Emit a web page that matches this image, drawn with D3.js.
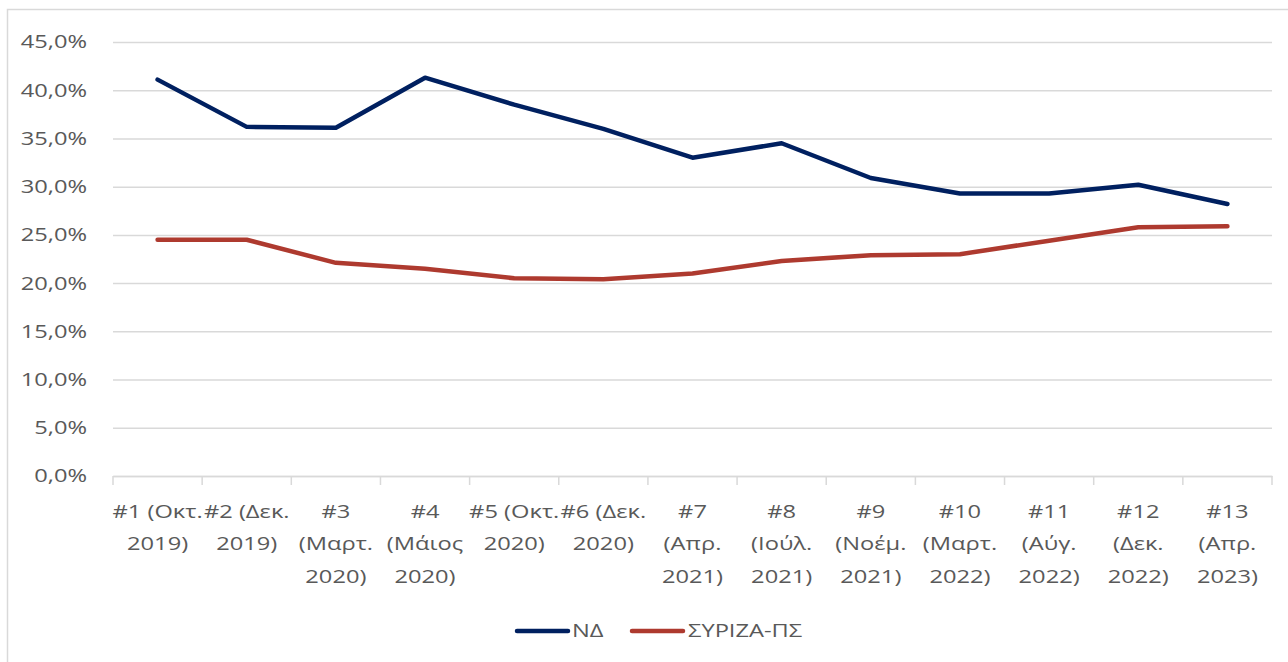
<!DOCTYPE html>
<html><head><meta charset="utf-8">
<script src="https://cdn.jsdelivr.net/npm/d3@7"></script>
<style>
html,body{margin:0;padding:0;background:#fff;}
svg{display:block;font-family:"Open Sans","Noto Sans",sans-serif;}
</style></head>
<body>
<svg id="chart" width="1288" height="662"></svg>
<script>
const categories = [
  ["#1 (Οκτ.", "2019)"],
  ["#2 (Δεκ.", "2019)"],
  ["#3", "(Μαρτ.", "2020)"],
  ["#4", "(Μάιος", "2020)"],
  ["#5 (Οκτ.", "2020)"],
  ["#6 (Δεκ.", "2020)"],
  ["#7", "(Απρ.", "2021)"],
  ["#8", "(Ιούλ.", "2021)"],
  ["#9", "(Νοέμ.", "2021)"],
  ["#10", "(Μαρτ.", "2022)"],
  ["#11", "(Αύγ.", "2022)"],
  ["#12", "(Δεκ.", "2022)"],
  ["#13", "(Απρ.", "2023)"]
];
const seriesNames = ["ΝΔ", "ΣΥΡΙΖΑ-ΠΣ"];
const ndValues = [41.1, 36.2, 36.1, 41.3, 38.5, 36.0, 33.0, 34.5, 30.9, 29.3, 29.3, 30.2, 28.2];
const syrizaValues = [24.5, 24.5, 22.1, 21.5, 20.5, 20.4, 21.0, 22.3, 22.9, 23.0, 24.4, 25.8, 25.9];
const yTicks = [0, 5, 10, 15, 20, 25, 30, 35, 40, 45];
const colors = ["#002060", "#AE3A2F"];

(function () {
const svg = d3.select("#chart");
const L = 113, R = 1272, T = 42, B = 476;
const textColor = "#595959", gridColor = "#D9D9D9";
const FS = 18.5, SX = 1.28;

// outer chart border
svg.append("rect").attr("x", 7.5).attr("y", 9.5).attr("width", 1300).attr("height", 700)
  .attr("fill", "none").attr("stroke", gridColor).attr("stroke-width", 1.5);

const idx = d3.range(categories.length);
const x = d3.scaleBand().domain(idx).range([L, R]).padding(0);
const y = d3.scaleLinear().domain([0, 45]).range([B, T]);

// gridlines
const yAxis = d3.axisLeft(y).tickValues(yTicks).tickSize(-(R - L)).tickFormat(() => "");
const gy = svg.append("g").attr("transform", `translate(${L},0)`).call(yAxis);
gy.select(".domain").remove();
gy.selectAll(".tick line").attr("stroke", gridColor).attr("stroke-width", 1.5);
gy.selectAll(".tick text").remove();

// y labels
const fmt = d => d3.format(".1f")(d).replace(".", ",") + "%";
svg.append("g").selectAll("text").data(yTicks).join("text")
  .attr("transform", d => `translate(87,${y(d)}) scale(${SX},1)`)
  .attr("text-anchor", "end").attr("dy", "0.35em")
  .attr("fill", textColor).attr("font-size", FS).text(fmt);

// x axis
const xAxis = d3.axisBottom(x).tickSize(0).tickFormat(() => "");
const gx = svg.append("g").attr("transform", `translate(0,${B})`).call(xAxis);
gx.select(".domain").attr("stroke", gridColor).attr("stroke-width", 1.5);
const bounds = idx.map(i => x(i)).concat([R]);
svg.append("g").selectAll("line").data(bounds).join("line")
  .attr("x1", d => d).attr("x2", d => d).attr("y1", B).attr("y2", B + 9)
  .attr("stroke", gridColor).attr("stroke-width", 1.5);

// x labels
const lab = svg.append("g").selectAll("text").data(categories).join("text")
  .attr("text-anchor", "middle").attr("fill", textColor).attr("font-size", FS)
  .attr("transform", (d, i) => `translate(${x(i) + x.bandwidth() / 2},${B + 42}) scale(${SX},1)`);
lab.selectAll("tspan").data(d => d).join("tspan")
  .attr("x", 0).attr("y", (d, j) => j * 32.5).text(d => d);

// lines
const line = d3.line().x((d, i) => x(i) + x.bandwidth() / 2).y(d => y(d));
[ndValues, syrizaValues].forEach((vals, k) => {
  svg.append("path").datum(vals).attr("d", line).attr("fill", "none")
    .attr("stroke", colors[k]).attr("stroke-width", 4.5)
    .attr("stroke-linecap", "round").attr("stroke-linejoin", "round");
});

// legend
const legendY = 631;
const legItems = [{x: 517, tx: 572}, {x: 632, tx: 688}];
legItems.forEach((it, k) => {
  svg.append("line").attr("x1", it.x).attr("x2", it.x + 51).attr("y1", legendY).attr("y2", legendY)
    .attr("stroke", colors[k]).attr("stroke-width", 4.5).attr("stroke-linecap", "round");
  svg.append("text").attr("transform", `translate(${it.tx},${legendY}) scale(${SX},1)`)
    .attr("dy", "0.35em").attr("fill", textColor).attr("font-size", FS).text(seriesNames[k]);
});
})();
</script>
</body></html>
